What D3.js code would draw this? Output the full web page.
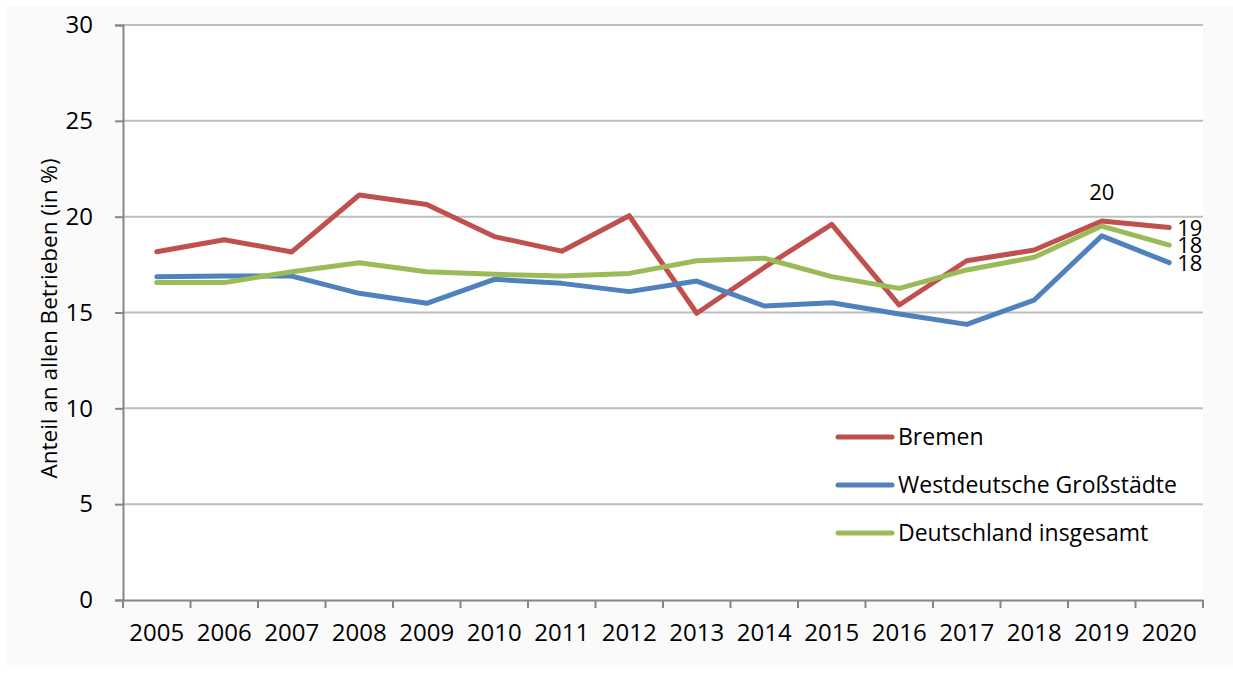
<!DOCTYPE html>
<html><head><meta charset="utf-8">
<script src="https://cdn.jsdelivr.net/npm/d3@7"></script>
<style>
body{margin:0;background:#fff;}
text{font-family:"Open Sans","Noto Sans",sans-serif;fill:#000;}
</style></head>
<body><svg id="c" width="1233" height="673"></svg>
<script>
const years = ["2005","2006","2007","2008","2009","2010","2011","2012","2013","2014","2015","2016","2017","2018","2019","2020"];
const bremen = [18.17,18.8,18.16,21.13,20.64,18.96,18.2,20.05,14.96,17.35,19.6,15.39,17.7,18.26,19.77,19.43];
const westdeutsche = [16.87,16.9,16.9,16.0,15.48,16.73,16.52,16.09,16.64,15.34,15.51,14.92,14.38,15.65,19.0,17.6];
const deutschland = [16.56,16.56,17.13,17.6,17.13,16.99,16.9,17.04,17.7,17.83,16.87,16.26,17.22,17.88,19.51,18.52];
const seriesNames = ["Bremen","Westdeutsche Großstädte","Deutschland insgesamt"];
const colors = ["#c0504d","#4f81bd","#9bbb59"];
const yTicks = [0,5,10,15,20,25,30];
const yTitle = "Anteil an allen Betrieben (in %)";

const svg = d3.select("#c");
svg.append("rect").attr("x",7).attr("y",6).attr("width",1226).attr("height",661).attr("fill","#fafafa");
const L=123,R=1203,T=25,B=600;
svg.append("rect").attr("x",L).attr("y",T).attr("width",R-L).attr("height",B-T).attr("fill","#fff");

const x = d3.scaleBand().domain(years).range([L,R]);
const y = d3.scaleLinear().domain([0,30]).range([B,T]);

svg.append("g").selectAll("line").data(yTicks.filter(d=>d>0)).join("line")
  .attr("x1",L).attr("x2",R).attr("y1",d=>y(d)).attr("y2",d=>y(d))
  .attr("stroke","#bebebe").attr("stroke-width",2);

const ya = svg.append("g").attr("transform",`translate(${L},0)`)
  .call(d3.axisLeft(y).tickValues(yTicks).tickSize(8).tickPadding(22));
ya.select(".domain").attr("stroke","#868686").attr("stroke-width",2);
ya.selectAll(".tick line").attr("stroke","#868686").attr("stroke-width",2);
ya.selectAll("text").style("font-size","24px").attr("fill","#000");

const xa = svg.append("g").attr("transform",`translate(0,${B})`)
  .call(d3.axisBottom(x).tickSize(0).tickPadding(24));
xa.select(".domain").attr("stroke","#868686").attr("stroke-width",2);
xa.selectAll("text").style("font-size","24px").attr("fill","#000");
const bounds = years.map(d=>x(d)).concat([R]);
svg.append("g").selectAll("line").data(bounds).join("line")
  .attr("x1",d=>d).attr("x2",d=>d).attr("y1",B).attr("y2",B+8)
  .attr("stroke","#868686").attr("stroke-width",2);

svg.append("text").attr("transform",`translate(49,${(T+B)/2+6}) rotate(-90)`)
  .attr("text-anchor","middle").attr("dy","0.36em").style("font-size","22.5px").text(yTitle);

const cx = d => x(d)+x.bandwidth()/2;
const line = d3.line().x((v,i)=>cx(years[i])).y(v=>y(v));
const all = [bremen,westdeutsche,deutschland];
all.forEach((s,k)=>{
  svg.append("path").datum(s).attr("d",line).attr("fill","none")
    .attr("stroke",colors[k]).attr("stroke-width",5)
    .attr("stroke-linejoin","round").attr("stroke-linecap","round");
});
const n = years.length;
svg.append("text").attr("x",cx(years[n-2])).attr("y",y(bremen[n-2])-21)
  .attr("text-anchor","middle").style("font-size","22px").text(Math.round(bremen[n-2]));
const endLabels = [[bremen[n-1],Math.round(bremen[n-1])],[deutschland[n-1],Math.floor(deutschland[n-1])],[westdeutsche[n-1],Math.round(westdeutsche[n-1])]];
endLabels.forEach(([v,t])=>{
  svg.append("text").attr("x",cx(years[n-1])+8).attr("y",y(v)).attr("dy","0.36em")
    .style("font-size","22px").text(t);
});

const lg = svg.append("g");
seriesNames.forEach((nm,i)=>{
  const yy = 437 + i*48;
  lg.append("line").attr("x1",838).attr("x2",892).attr("y1",yy).attr("y2",yy)
    .attr("stroke",colors[i]).attr("stroke-width",5).attr("stroke-linecap","round");
  lg.append("text").attr("x",898).attr("y",yy).attr("dy","0.36em").style("font-size","23px").text(nm);
});
</script></body></html>
